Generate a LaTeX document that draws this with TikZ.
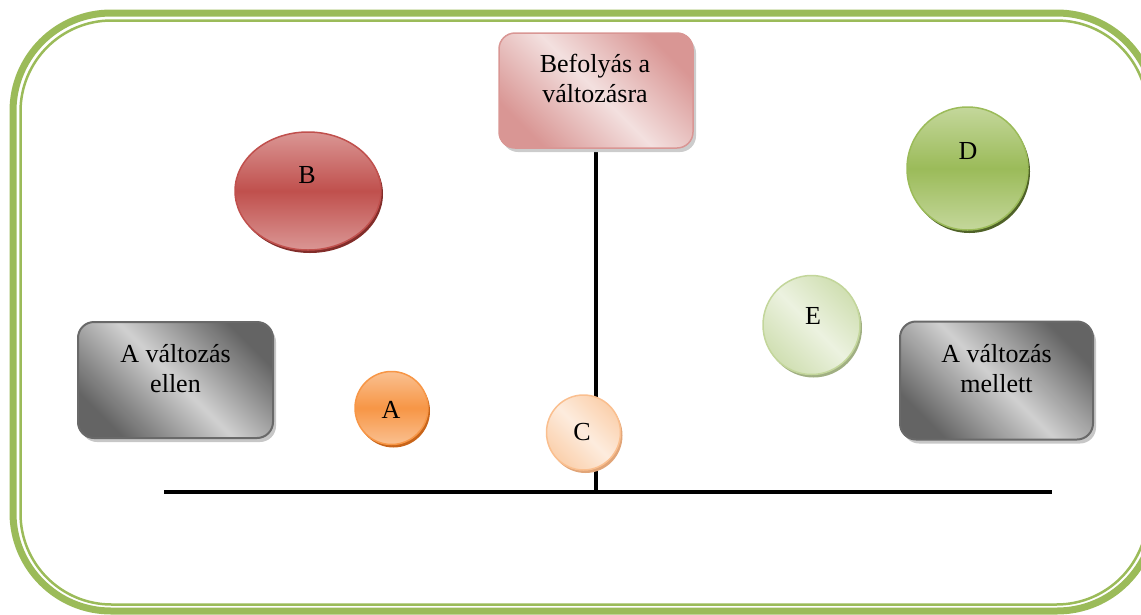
\documentclass[tikz,border=0pt]{standalone}
\usepackage{fontspec}
\setmainfont{Liberation Serif}
\usetikzlibrary{shadows,backgrounds,shapes.geometric}
\definecolor{frameg}{RGB}{155,187,89}
\definecolor{pinkdark}{RGB}{217,150,148}
\definecolor{pinklight}{RGB}{243,224,223}
\definecolor{gdark}{RGB}{100,100,100}
\definecolor{glight}{RGB}{208,208,208}
\definecolor{gborder}{RGB}{105,105,105}
\definecolor{redmid}{RGB}{192,80,77}
\definecolor{redlight}{RGB}{218,150,148}
\definecolor{redshadow}{RGB}{130,45,42}
\definecolor{orgmid}{RGB}{247,150,70}
\definecolor{orglight}{RGB}{250,192,144}
\definecolor{orgshadow}{RGB}{200,100,25}
\definecolor{peachdark}{RGB}{251,208,172}
\definecolor{peachlight}{RGB}{253,236,222}
\definecolor{peachborder}{RGB}{250,191,143}
\definecolor{peachshadow}{RGB}{225,165,120}
\definecolor{grnmid}{RGB}{155,187,89}
\definecolor{grnlight}{RGB}{196,215,155}
\definecolor{grnshadow}{RGB}{79,98,40}
\definecolor{ltgdark}{RGB}{208,223,178}
\definecolor{ltglight}{RGB}{236,242,224}
\definecolor{ltgborder}{RGB}{195,214,155}
\definecolor{ltgshadow}{RGB}{160,175,130}
\tikzset{
  txt/.style={font=\fontsize{26}{30}\selectfont, align=center, inner sep=0pt},
  boxshape/.style={rectangle, rounded corners=16pt, inner sep=0pt},
  graybox/.style={boxshape, draw=gborder, line width=2pt,
    top color=gdark, bottom color=gdark, middle color=glight, shading angle=-45,
    drop shadow={shadow xshift=3pt, shadow yshift=-4pt, fill=black!22, opacity=1}},
  pinkbox/.style={boxshape, draw=pinkdark, line width=1.5pt,
    top color=pinkdark, bottom color=pinkdark, middle color=pinklight, shading angle=-45,
    drop shadow={shadow xshift=3pt, shadow yshift=-4pt, fill=black!20, opacity=1}},
  vball/.style={ellipse, inner sep=0pt, line width=1.5pt},
  redball/.style={vball, draw=redmid, top color=redlight, bottom color=redlight, middle color=redmid,
    drop shadow={shadow xshift=2pt, shadow yshift=-3pt, fill=redshadow, opacity=1}},
  orgball/.style={vball, draw=orgmid, top color=orglight, bottom color=orglight, middle color=orgmid,
    drop shadow={shadow xshift=2pt, shadow yshift=-3pt, fill=orgshadow, opacity=1}},
  grnball/.style={vball, draw=grnmid, top color=grnlight, bottom color=grnlight, middle color=grnmid,
    drop shadow={shadow xshift=2pt, shadow yshift=-3pt, fill=grnshadow, opacity=1}},
  peachball/.style={vball, draw=peachborder, top color=peachdark, bottom color=peachdark, middle color=peachlight, shading angle=-45,
    drop shadow={shadow xshift=2pt, shadow yshift=-3pt, fill=peachshadow, opacity=1}},
  ltgball/.style={vball, draw=ltgborder, top color=ltgdark, bottom color=ltgdark, middle color=ltglight, shading angle=-45,
    drop shadow={shadow xshift=2pt, shadow yshift=-3pt, fill=ltgshadow, opacity=1}},
  axis/.style={line width=4.5pt, black},
}
\begin{document}
\begin{tikzpicture}[x=1pt,y=-1pt]
\useasboundingbox (0,0) rectangle (1141,614);
\clip (0,0) rectangle (1141,614);
% shapes
\node[pinkbox, minimum width=194pt, minimum height=115pt] (top) at (596,90.5) {};
\node[graybox, minimum width=195pt, minimum height=116pt] (left) at (175.5,380) {};
\node[graybox, minimum width=193pt, minimum height=118pt] (right) at (996.5,380.5) {};
\node[redball, minimum width=146pt, minimum height=118pt] (B) at (308,191) {};
\node[orgball, minimum width=73pt, minimum height=73pt] (A) at (391.5,408) {};
\node[peachball, minimum width=74pt, minimum height=75pt] (C) at (583.5,432.5) {};
\node[grnball, minimum width=121pt, minimum height=123pt] (D) at (967.5,168.5) {};
\node[ltgball, minimum width=97pt, minimum height=99pt] (E) at (811.5,325) {};
% texts
\node[txt] (toptxt) at (595,78.5) {Befolyás a\\változásra};
\node[txt] (lefttxt) at (175.5,368.5) {A változás\\ellen};
\node[txt] (righttxt) at (996.5,368.5) {A változás\\mellett};
\node[txt] (Btxt) at (307,175.5) {B};
\node[txt] (Atxt) at (391,409.5) {A};
\node[txt] (Ctxt) at (582,432.5) {C};
\node[txt] (Dtxt) at (968,151) {D};
\node[txt] (Etxt) at (813,315.5) {E};
\coordinate (hl) at (164,492);
\coordinate (hr) at (1052,492);
\begin{scope}[on background layer]
  \draw[frameg, line width=7pt] (13,13) [rounded corners=98pt] rectangle (1155,611);
  \draw[frameg, line width=2.5pt] (20.5,20.5) [rounded corners=91pt] rectangle (1147.5,604.5);
  \draw[axis] (hl) -- (hr);
  \draw[axis] (top.south) -- (top.south |- hl);
\end{scope}
\end{tikzpicture}
\end{document}
